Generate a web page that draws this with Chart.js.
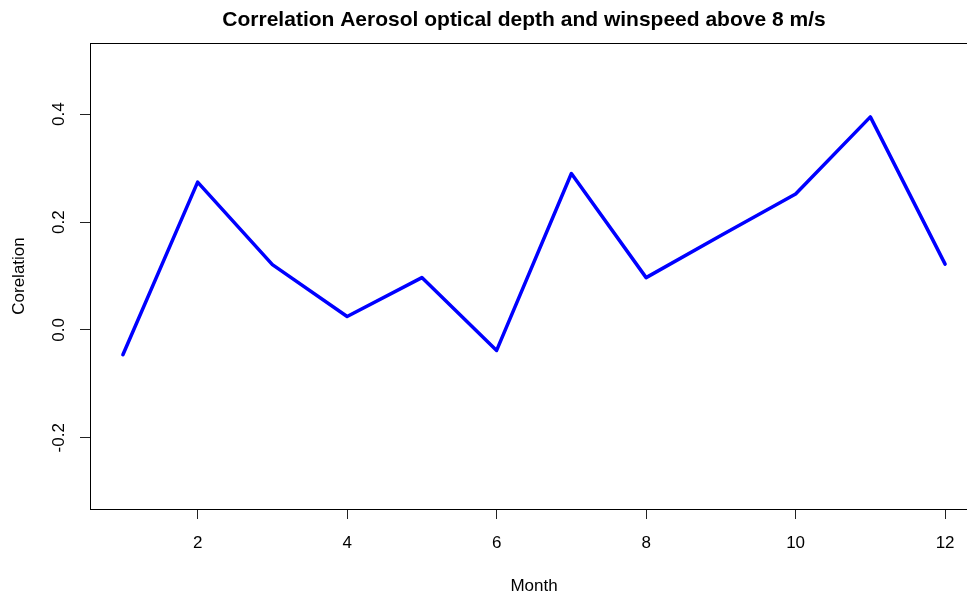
<!DOCTYPE html>
<html>
<head>
<meta charset="utf-8">
<script src="https://cdn.jsdelivr.net/npm/chart.js@4.4.1/dist/chart.umd.min.js"></script>
<style>
  html, body { margin: 0; padding: 0; background: #fff; }
  body { width: 967px; height: 592px; overflow: hidden; }
  #wrap { width: 1048px; height: 592px; }
</style>
</head>
<body>
<div id="wrap"><canvas id="chart" width="1048" height="592"></canvas></div>
<script>
// Monthly correlation between aerosol optical depth and wind speed above 8 m/s
const months = [1, 2, 3, 4, 5, 6, 7, 8, 9, 10, 11, 12];
const correlation = [-0.046, 0.274, 0.121, 0.025, 0.097, -0.038, 0.290, 0.097, 0.175, 0.252, 0.395, 0.122];

// Axis ticks and limits (limits padded 4% beyond the nominal range)
const xTicks = [2, 4, 6, 8, 10, 12];
const yTicks = [-0.2, 0.0, 0.2, 0.4];
const xLimits = [0.56, 12.44];
const yLimits = [-0.332, 0.532];

const FONT = '"Liberation Sans", Arial, Helvetica, sans-serif';
Chart.defaults.font.family = FONT;
Chart.defaults.color = '#000';

// Full frame around the plotting region
const frame = {
  id: 'frame',
  afterDraw(chart) {
    const { ctx, chartArea: a } = chart;
    ctx.save();
    ctx.strokeStyle = '#000';
    ctx.lineWidth = 1;
    ctx.strokeRect(Math.round(a.left) + 0.5, Math.round(a.top) + 0.5,
                   Math.round(a.right - a.left), Math.round(a.bottom - a.top));
    ctx.restore();
  }
};

new Chart(document.getElementById('chart'), {
  type: 'line',
  data: {
    datasets: [{
      data: months.map((m, i) => ({ x: m, y: correlation[i] })),
      borderColor: '#0000FF',
      borderWidth: 3.5,
      borderJoinStyle: 'round',
      borderCapStyle: 'round',
      pointRadius: 0,
      tension: 0,
      fill: false,
      xAxisID: 'x',
      yAxisID: 'y'
    }]
  },
  options: {
    responsive: false,
    animation: false,
    devicePixelRatio: 1,
    layout: { padding: 0 },
    plugins: {
      legend: { display: false },
      tooltip: { enabled: false },
      title: {
        display: true,
        text: 'Correlation Aerosol optical depth and winspeed above 8 m/s',
        color: '#000',
        font: { size: 21, weight: 'bold', family: FONT },
        padding: { top: 8, bottom: 9.8 }
      }
    },
    scales: {
      x: {
        type: 'linear',
        position: 'bottom',
        min: xLimits[0],
        max: xLimits[1],
        afterBuildTicks: s => { s.ticks = xTicks.map(v => ({ value: v })); },
        afterFit: s => { s.height = 83; },
        ticks: {
          font: { size: 17 },
          color: '#000',
          padding: 14,
          maxRotation: 0,
          autoSkip: false,
          callback: v => String(v)
        },
        grid: { drawOnChartArea: false, drawTicks: true, tickLength: 10, tickColor: '#222', tickWidth: 1 },
        border: { display: true, color: '#000', width: 1 },
        title: {
          display: true,
          text: 'Month',
          font: { size: 17, lineHeight: 1 },
          padding: { top: 0, bottom: -2.5 }
        }
      },
      y: {
        type: 'linear',
        position: 'left',
        min: yLimits[0],
        max: yLimits[1],
        afterBuildTicks: s => { s.ticks = yTicks.map(v => ({ value: v })); },
        afterFit: s => { s.width = 90; },
        ticks: {
          font: { size: 17 },
          color: '#000',
          padding: 6,
          minRotation: 90,
          maxRotation: 90,
          crossAlign: 'center',
          autoSkip: false,
          callback: v => v.toFixed(1)
        },
        grid: { drawOnChartArea: false, drawTicks: true, tickLength: 10, tickColor: '#222', tickWidth: 1 },
        border: { display: true, color: '#000', width: 1 },
        title: {
          display: true,
          text: 'Corelation',
          font: { size: 17, lineHeight: 1 },
          padding: { top: 10.5, bottom: 0 }
        }
      },
      // empty margin to the right of the plotting region
      margin: {
        type: 'linear',
        position: 'right',
        display: true,
        afterFit: s => { s.width = 70; },
        ticks: { display: false },
        grid: { display: false, drawTicks: false },
        border: { display: false }
      }
    }
  },
  plugins: [frame]
});
</script>
</body>
</html>
